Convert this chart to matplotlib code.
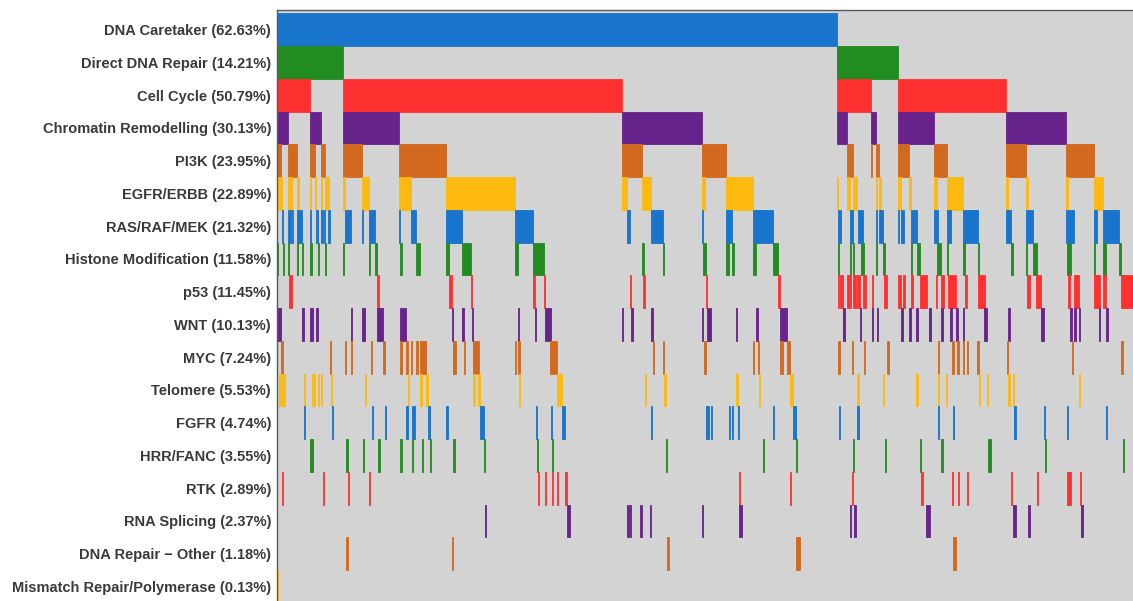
import matplotlib
matplotlib.use("Agg")
import matplotlib.pyplot as plt

# Cohort size and pathway alteration summary
n_samples = 760
pathways = [
    "DNA Caretaker", "Direct DNA Repair", "Cell Cycle", "Chromatin Remodelling",
    "PI3K", "EGFR/ERBB", "RAS/RAF/MEK", "Histone Modification", "p53", "WNT",
    "MYC", "Telomere", "FGFR", "HRR/FANC", "RTK", "RNA Splicing",
    "DNA Repair \u2212 Other", "Mismatch Repair/Polymerase",
]
altered_counts = [476, 108, 386, 229, 182, 174, 162, 88, 87, 77, 55, 42, 36, 27, 22, 18, 9, 1]
palette = ["#1874CD", "#228B22", "#FF3030", "#68228B", "#D2691E", "#FFB90F"]

# Altered samples per pathway as [start, stop) runs in the sorted sample order
caretaker = [(0, 476)]
direct_repair = [(0, 56), (476, 528)]
cell_cycle = [(0, 28), (56, 293), (476, 505), (528, 620)]
chromatin = [(0, 9), (28, 37), (56, 104), (293, 361), (476, 485), (505, 509),
             (528, 559), (620, 671)]
pi3k = [(0, 3), (9, 17), (28, 32), (37, 41), (56, 72), (104, 144), (293, 310),
        (361, 382), (485, 490), (505, 506), (509, 512), (528, 537), (559, 570),
        (620, 637), (671, 695)]
egfr = [(0, 1), (2, 4), (9, 13), (17, 19), (28, 29), (32, 33), (37, 38), (41, 44),
        (56, 58), (72, 78), (104, 114), (144, 202), (293, 298), (310, 318),
        (361, 364), (382, 405), (476, 477), (485, 487), (490, 493), (509, 510),
        (512, 514), (528, 531), (537, 539), (559, 561), (570, 583), (620, 622),
        (637, 639), (671, 673), (695, 702)]
ras = [(4, 5), (9, 12), (13, 14), (17, 21), (28, 29), (33, 35), (37, 39), (40, 41),
       (43, 45), (58, 63), (72, 73), (78, 83), (104, 105), (114, 118), (144, 157),
       (202, 218), (298, 300), (318, 328), (361, 362), (382, 387), (405, 422),
       (477, 480), (487, 490), (494, 498), (509, 510), (512, 515), (528, 529),
       (531, 533), (539, 544), (559, 562), (570, 573), (583, 596), (620, 624),
       (637, 643), (671, 678), (695, 697), (702, 716)]
histone = [(0, 1), (5, 6), (9, 10), (17, 18), (21, 22), (28, 30), (35, 36), (41, 42),
           (56, 57), (78, 79), (83, 85), (105, 106), (118, 122), (144, 146),
           (157, 165), (202, 205), (218, 227), (310, 312), (328, 329), (362, 365),
           (382, 384), (387, 389), (405, 407), (422, 426), (477, 478), (487, 488),
           (490, 491), (497, 499), (509, 510), (515, 517), (539, 540), (544, 547),
           (561, 565), (570, 571), (583, 585), (596, 597), (624, 626), (637, 638),
           (643, 646), (672, 675), (695, 696), (702, 705), (716, 718)]
p53 = [(10, 13), (85, 87), (146, 149), (165, 166), (218, 219), (227, 228), (300, 301),
       (311, 313), (365, 366), (426, 428), (477, 478), (479, 481), (485, 488),
       (490, 492), (493, 496), (498, 501), (506, 507), (516, 519), (528, 531),
       (532, 534), (539, 541), (547, 553), (560, 561), (565, 567), (571, 577),
       (585, 587), (596, 602), (638, 640), (645, 650), (673, 674), (678, 682),
       (695, 700), (702, 705), (718, 732)]
wnt = [(0, 3), (21, 23), (28, 31), (33, 35), (63, 64), (72, 75), (85, 90), (105, 110),
       (149, 150), (157, 159), (166, 167), (205, 206), (219, 220), (228, 233),
       (293, 294), (301, 303), (318, 320), (361, 362), (366, 369), (390, 391),
       (407, 409), (428, 434), (481, 483), (496, 497), (506, 507), (510, 511),
       (531, 532), (537, 539), (543, 545), (554, 556), (565, 566), (572, 574),
       (577, 579), (583, 584), (601, 604), (622, 623), (650, 652), (674, 676),
       (678, 679), (682, 683), (699, 700), (705, 707)]
myc = [(3, 5), (45, 46), (58, 59), (63, 64), (80, 81), (90, 92), (105, 106),
       (110, 111), (114, 115), (118, 120), (122, 127), (150, 152), (159, 160),
       (167, 172), (202, 203), (205, 207), (232, 238), (320, 321), (328, 329),
       (363, 365), (405, 406), (409, 410), (428, 430), (434, 436), (477, 479),
       (489, 490), (499, 500), (519, 520), (562, 563), (574, 576), (578, 580),
       (583, 584), (587, 588), (595, 597), (621, 622), (676, 677), (718, 719)]
telomere = [(2, 3), (4, 7), (23, 24), (30, 32), (35, 36), (37, 38), (46, 47),
            (75, 76), (111, 112), (122, 123), (127, 128), (167, 168), (171, 173),
            (206, 207), (238, 242), (313, 314), (329, 331), (390, 392), (410, 411),
            (436, 439), (493, 495), (515, 516), (543, 545), (562, 563), (569, 570),
            (597, 598), (604, 605), (622, 623), (626, 627), (682, 683)]
fgfr = [(23, 24), (47, 48), (81, 82), (92, 93), (110, 111), (115, 117), (128, 130),
        (144, 145), (173, 176), (220, 221), (233, 234), (242, 245), (318, 319),
        (365, 367), (369, 370), (384, 385), (387, 388), (392, 393), (422, 423),
        (439, 441), (478, 479), (493, 495), (562, 563), (575, 576), (627, 628),
        (652, 653), (672, 673), (705, 706)]
hrr = [(28, 31), (59, 60), (73, 74), (86, 88), (105, 106), (115, 116), (123, 124),
       (130, 131), (150, 151), (176, 177), (221, 222), (234, 235), (331, 332),
       (413, 414), (441, 442), (490, 491), (517, 518), (547, 548), (565, 566),
       (605, 607), (653, 654), (719, 720)]
rtk = [(4, 5), (39, 40), (60, 61), (78, 79), (222, 223), (228, 229), (234, 235),
       (238, 239), (245, 247), (393, 394), (436, 437), (489, 490), (548, 549),
       (574, 575), (579, 580), (587, 588), (624, 625), (646, 647), (672, 675),
       (683, 684)]
rna_splicing = [(177, 178), (247, 249), (298, 299), (300, 301), (309, 310),
                (317, 318), (361, 362), (393, 395), (487, 488), (491, 492),
                (552, 555), (626, 628), (639, 640), (684, 685)]
dna_repair_other = [(59, 60), (149, 150), (332, 333), (441, 445), (575, 577)]
mismatch = [(0, 1)]

row_runs = [caretaker, direct_repair, cell_cycle, chromatin, pi3k, egfr, ras,
            histone, p53, wnt, myc, telomere, fgfr, hrr, rtk, rna_splicing,
            dna_repair_other, mismatch]

fig = plt.figure(figsize=(11.33, 6.01), dpi=100)
fig.patch.set_facecolor("white")

W, H = 1133.0, 601.0
px_per_sample = 1.176
row_px = 32.75
pad_px = 3.3
ax_left, ax_top = 277.0, 10.0
ax_w = n_samples * px_per_sample
ax_h = len(pathways) * row_px + 2 * pad_px
ax = fig.add_axes([ax_left / W, 1 - (ax_top + ax_h) / H, ax_w / W, ax_h / H])
ax.set_facecolor("#D3D3D3")

for i, runs in enumerate(row_runs):
    col = palette[i % len(palette)]
    ax.broken_barh([(s, e - s) for s, e in runs], (i, 1),
                   facecolors=col, edgecolors=col, linewidth=0.6)

pad = pad_px / row_px
ax.set_xlim(0, n_samples)
ax.set_ylim(len(pathways) + pad, -pad)

labels = [f"{name} ({100 * c / n_samples:.2f}%)" for name, c in zip(pathways, altered_counts)]
ax.set_yticks([i + 0.5 for i in range(len(pathways))])
ax.set_yticklabels(labels, fontfamily=["Liberation Sans", "DejaVu Sans"],
                   fontweight="bold", fontsize=10.5, color="#3a3a3a")
ax.tick_params(axis="y", length=0, pad=4.3)
ax.set_xticks([])

for side in ("right", "bottom"):
    ax.spines[side].set_visible(False)
for side in ("top", "left"):
    ax.spines[side].set_color("#5a5a5a")
    ax.spines[side].set_linewidth(1.0)

fig.savefig("out.png", dpi=100, facecolor="white")
